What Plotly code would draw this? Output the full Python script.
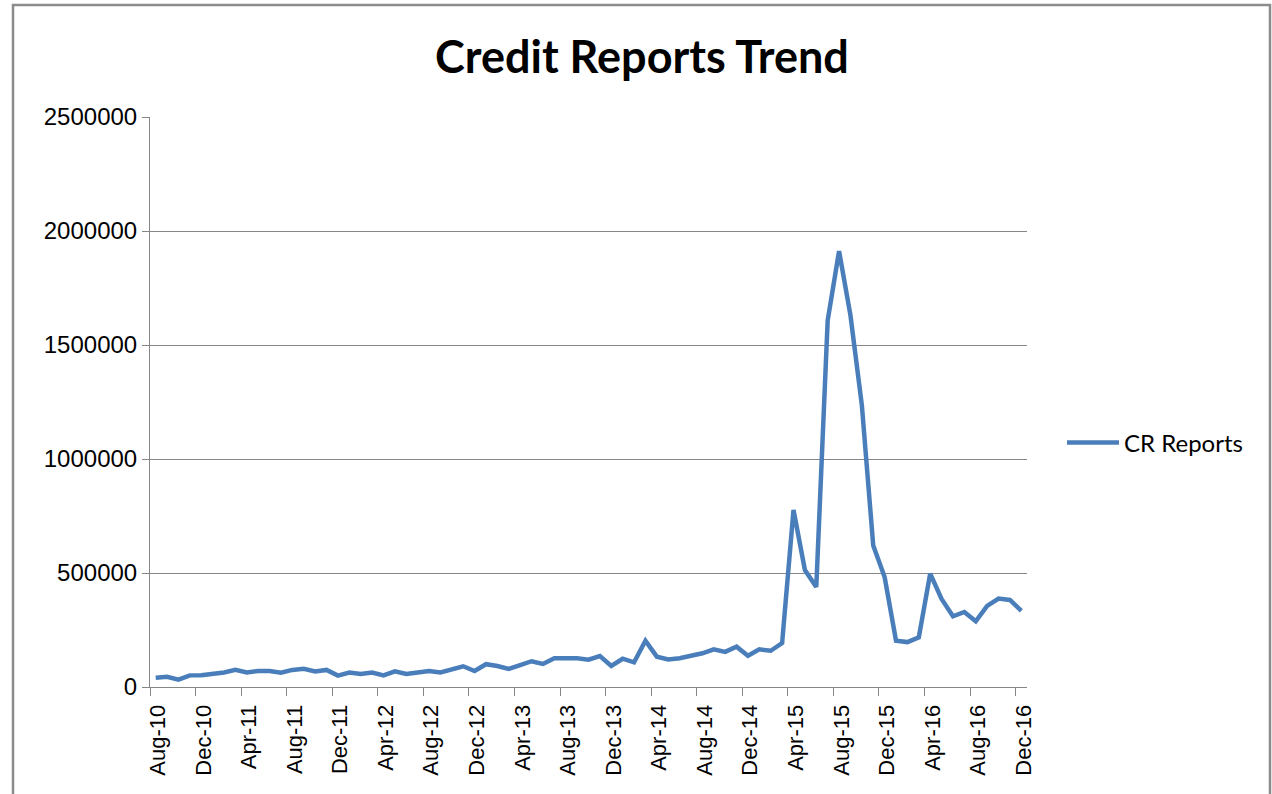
import pandas as pd
import plotly.graph_objects as go

# Monthly categories Aug-10 .. Dec-16
months = [d.strftime("%b-%y") for d in pd.date_range("2010-08-01", "2016-12-01", freq="MS")]

cr_reports = [
    41000, 45000, 32000, 51000, 52000, 58000, 64000, 75000, 64000, 70000,
    70000, 63000, 75000, 80000, 68000, 75000, 50000, 63000, 57000, 63000,
    51000, 69000, 57000, 64000, 70000, 64000, 80000, 91000, 70000, 100000,
    92000, 79000, 96000, 113000, 101000, 126000, 126000, 126000, 120000, 136000,
    92000, 124000, 108000, 203000, 133000, 121000, 126000, 136000, 148000, 165000,
    154000, 177000, 137000, 165000, 159000, 193000, 777000, 513000, 439000, 1608000,
    1912000, 1630000, 1236000, 620000, 482000, 203000, 197000, 218000, 497000, 386000,
    310000, 329000, 288000, 356000, 388000, 382000, 334000,
]

tick_labels = months[::4]
series_name = "CR Reports"
title_text = "Credit Reports Trend"

x_idx = list(range(len(months)))
tick_pos = [i - 0.5 for i in range(0, len(months), 4)]

fig = go.Figure()
fig.add_trace(go.Scatter(
    x=x_idx, y=cr_reports, mode="lines", name=series_name,
    line=dict(color="#4A7EBB", width=4.5),
    customdata=months, hovertemplate="%{customdata}: %{y}<extra></extra>",
))

W, H = 1272, 794
L, R, T, B = 150, 1027, 117, 687
pw, ph = R - L, B - T

def px(x):
    return (x - L) / pw

def py(y):
    return (B - y) / ph

fig.update_layout(
    width=W, height=H,
    margin=dict(l=L, r=W - R, t=T, b=H - B, pad=0),
    paper_bgcolor="white", plot_bgcolor="white",
    title=dict(text="<b>" + title_text + "</b>", x=642 / W,
               xanchor="center", y=1 - 57 / H, yanchor="middle",
               font=dict(family="Lato", size=45, color="black")),
    showlegend=True,
    legend=dict(x=px(1062), y=py(443), xanchor="left", yanchor="middle",
                font=dict(family="Lato", size=24, color="black"),
                bgcolor="rgba(0,0,0,0)", itemwidth=52),
    xaxis=dict(
        range=[-0.5, len(months) - 0.5], tickmode="array", tickvals=tick_pos, ticktext=tick_labels,
        tickangle=-90, ticks="outside", ticklen=8, tickcolor="#868686",
        showline=True, linecolor="#868686", linewidth=1, showgrid=False, zeroline=False,
        ticklabelshift=8,
        tickfont=dict(family="Liberation Sans", size=22, color="black"),
    ),
    yaxis=dict(
        range=[0, 2500000], dtick=500000, tick0=0, tickformat="d",
        ticks="outside", ticklen=7, tickcolor="#868686",
        showline=True, linecolor="#868686", linewidth=1,
        showgrid=True, gridcolor="#868686", gridwidth=1, zeroline=False,
        tickfont=dict(family="Liberation Sans", size=24, color="black"),
    ),
    shapes=[dict(type="rect", xref="paper", yref="paper",
                 x0=px(13), x1=px(1270), y0=py(820), y1=py(5),
                 line=dict(color="#8c8c8c", width=2.5), fillcolor="rgba(0,0,0,0)", layer="below")],
)

fig.write_html("out.html")
